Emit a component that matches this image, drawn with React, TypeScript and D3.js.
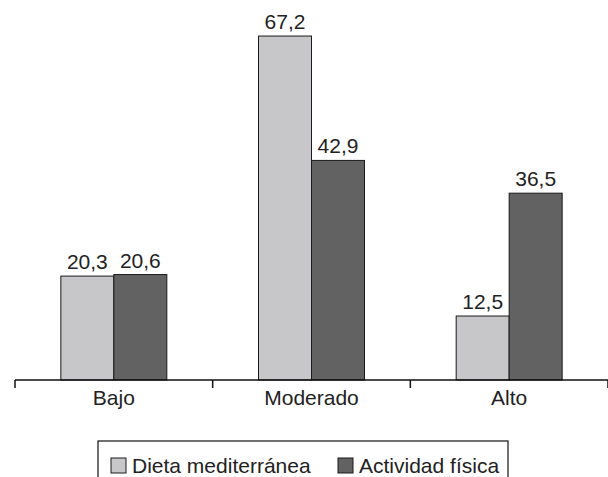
import { useEffect, useRef } from "react";
import * as d3 from "d3";

const categories = ["Bajo", "Moderado", "Alto"];
const series = ["Dieta mediterránea", "Actividad física"];
const dieta = [20.3, 67.2, 12.5];
const actividad = [20.6, 42.9, 36.5];
const colors = ["#c7c7c9", "#626262"];

const width = 608;
const height = 477;

export default function App() {
  const svgRef = useRef<SVGSVGElement | null>(null);

  useEffect(() => {
    if (!svgRef.current) return;
    const svg = d3.select(svgRef.current);
    svg.selectAll("*").remove();

    const font = "'Liberation Sans', Arial, sans-serif";
    const values = [dieta, actividad];

    const x0 = d3.scaleBand<string>().domain(categories).range([15, 608]).padding(0);
    const x1 = d3
      .scaleBand<string>()
      .domain(series)
      .range([0, x0.bandwidth()])
      .paddingInner(0)
      .paddingOuter(0.865);
    const y = d3.scaleLinear().domain([0, 70]).range([380, 21.7]);

    const fmt = (v: number) => v.toFixed(1).replace(".", ",");

    // bars
    series.forEach((s, si) => {
      const g = svg.append("g");
      g.selectAll("rect")
        .data(values[si])
        .enter()
        .append("rect")
        .attr("x", (_d, i) => x0(categories[i])! + x1(s)!)
        .attr("y", d => y(d))
        .attr("width", x1.bandwidth())
        .attr("height", d => y(0) - y(d))
        .attr("fill", colors[si])
        .attr("stroke", "#1a1a1a")
        .attr("stroke-width", 1);

      g.selectAll("text")
        .data(values[si])
        .enter()
        .append("text")
        .attr("x", (_d, i) => x0(categories[i])! + x1(s)! + x1.bandwidth() / 2)
        .attr("y", d => y(d) - 7)
        .attr("text-anchor", "middle")
        .attr("font-family", font)
        .attr("font-size", 21)
        .attr("fill", "#222")
        .text(d => fmt(d));
    });

    // x axis
    const axis = svg.append("g");
    axis
      .append("line")
      .attr("x1", 15)
      .attr("x2", 608)
      .attr("y1", y(0))
      .attr("y2", y(0))
      .attr("stroke", "#111")
      .attr("stroke-width", 1.5);
    const tickX = [...categories.map(c => x0(c)!), 608];
    axis
      .selectAll("line.tick")
      .data(tickX)
      .enter()
      .append("line")
      .attr("class", "tick")
      .attr("x1", d => d)
      .attr("x2", d => d)
      .attr("y1", y(0))
      .attr("y2", y(0) + 8)
      .attr("stroke", "#111")
      .attr("stroke-width", 1.5);
    axis
      .selectAll("text")
      .data(categories)
      .enter()
      .append("text")
      .attr("x", d => x0(d)! + x0.bandwidth() / 2)
      .attr("y", 405)
      .attr("text-anchor", "middle")
      .attr("font-family", font)
      .attr("font-size", 21)
      .attr("fill", "#222")
      .text(d => d);

    // legend
    const legend = svg.append("g");
    legend
      .append("rect")
      .attr("x", 98)
      .attr("y", 441)
      .attr("width", 410)
      .attr("height", 45)
      .attr("fill", "none")
      .attr("stroke", "#111")
      .attr("stroke-width", 1.2);
    const legendX = [111, 338];
    series.forEach((s, si) => {
      legend
        .append("rect")
        .attr("x", legendX[si])
        .attr("y", 458)
        .attr("width", 15)
        .attr("height", 15)
        .attr("fill", colors[si])
        .attr("stroke", "#1a1a1a")
        .attr("stroke-width", 1);
      legend
        .append("text")
        .attr("x", legendX[si] + 21)
        .attr("y", 473)
        .attr("font-family", font)
        .attr("font-size", 21)
        .attr("fill", "#222")
        .text(s);
    });
  }, []);

  return (
    <svg
      ref={svgRef}
      width={width}
      height={height}
      style={{ position: "absolute", left: 0, top: 0, background: "#fff" }}
    />
  );
}
